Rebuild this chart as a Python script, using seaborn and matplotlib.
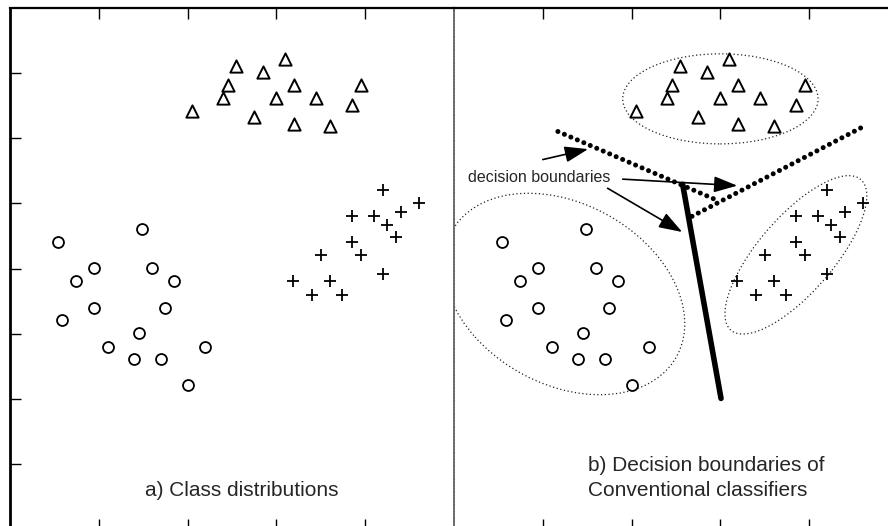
import numpy as np
import pandas as pd
import seaborn as sns
import matplotlib.pyplot as plt
from matplotlib.patches import Ellipse

# ---------------- data ----------------
tri_x = [2.05, 2.55, 2.45, 2.40, 2.85, 3.10, 3.20, 3.00, 2.75, 3.20, 3.45, 3.60, 3.85, 3.95]
tri_y = [6.41, 7.11, 6.82, 6.62, 7.01, 7.21, 6.82, 6.62, 6.32, 6.22, 6.62, 6.18, 6.51, 6.82]
plus_x = [4.20, 4.61, 3.85, 4.10, 4.40, 4.25, 4.35, 3.85, 3.50, 3.95, 4.20, 3.19, 3.60, 3.40, 3.74]
plus_y = [5.20, 5.00, 4.80, 4.80, 4.86, 4.67, 4.49, 4.41, 4.20, 4.20, 3.91, 3.81, 3.81, 3.60, 3.60]
circ_x = [1.49, 0.54, 0.95, 1.60, 0.74, 1.85, 0.95, 1.75, 0.59, 1.45, 1.10, 2.20, 1.40, 1.70, 2.00]
circ_y = [4.60, 4.40, 4.01, 4.01, 3.81, 3.81, 3.40, 3.40, 3.21, 3.01, 2.80, 2.80, 2.61, 2.61, 2.21]

x_ticks = [1, 2, 3, 4]
y_ticks = [1, 2, 3, 4, 5, 6, 7]

# class-region ellipses: (cx, cy, width, height, angle)
ell_circ = (1.24, 3.61, 3.34, 2.40, -56.7)
ell_plus = (3.85, 4.21, 2.75, 0.94, 60.0)
ell_tri = (3.00, 6.60, 2.20, 1.38, 0.0)

# decision boundaries
bnd_dot1_x = [1.17, 2.99]
bnd_dot1_y = [6.10, 5.03]
bnd_dot2_x = [2.68, 4.63]
bnd_dot2_y = [4.80, 6.19]
bnd_solid_x = [2.575, 3.007]
bnd_solid_y = [5.29, 2.01]

# arrows (tail -> head)
arrow_tails = [(1.00, 5.67), (1.90, 5.37), (1.73, 5.23)]
arrow_heads = [(1.51, 5.83), (3.19, 5.27), (2.57, 4.56)]

label_a = "a) Class distributions"
label_b1 = "b) Decision boundaries of"
label_b2 = "Conventional classifiers"
label_db = "decision boundaries"

# ---------------- styling ----------------
sns.set_theme(style="white")
plt.rcParams['font.family'] = ['Liberation Sans', 'DejaVu Sans']

df = pd.concat([
    pd.DataFrame({'x': tri_x, 'y': tri_y, 'cls': 'tri'}),
    pd.DataFrame({'x': plus_x, 'y': plus_y, 'cls': 'plus'}),
    pd.DataFrame({'x': circ_x, 'y': circ_y, 'cls': 'circ'}),
], ignore_index=True)

W, H = 888, 526
fig = plt.figure(figsize=(W / 100, H / 100), dpi=100)
bottom = (526 - 529.6) / H
height = (529.6 - 7.5) / H
axL = fig.add_axes([10 / W, bottom, 444 / W, height])
axR = fig.add_axes([454 / W, bottom, 444 / W, height])


def draw_points(ax):
    sub = df[df.cls == 'circ']
    sns.scatterplot(data=sub, x='x', y='y', marker='o', s=62, facecolor='white',
                    edgecolor='black', linewidth=1.3, ax=ax, zorder=4)
    sub = df[df.cls == 'tri']
    sns.scatterplot(data=sub, x='x', y='y', marker='^', s=78, facecolor='white',
                    edgecolor='black', linewidth=1.4, ax=ax, zorder=4)
    sub = df[df.cls == 'plus']
    sns.scatterplot(data=sub, x='x', y='y', marker='+', s=70, color='black',
                    linewidth=1.3, ax=ax, zorder=4)


for ax in (axL, axR):
    draw_points(ax)
    ax.set_xlim(0, 5)
    ax.set_ylim(0, 8)
    ax.set_xlabel('')
    ax.set_ylabel('')
    ax.set_xticks(x_ticks)
    ax.tick_params(direction='in', length=8, width=1, color='black',
                   top=True, bottom=True, labelleft=False, labelbottom=False,
                   labeltop=False)
    ax.spines['right'].set_visible(False)
    ax.spines['top'].set_linewidth(1.6)
    ax.spines['top'].set_color('black')
    ax.spines['bottom'].set_color('black')
    ax.set_facecolor('white')

axL.set_yticks(y_ticks)
axL.tick_params(left=True)
axL.spines['left'].set_linewidth(2.0)
axL.spines['left'].set_color('black')

axR.set_yticks([])
axR.spines['left'].set_linewidth(1.3)
axR.spines['left'].set_color('#666666')
axR.spines['left'].set_linestyle((0, (1, 0.8)))

axL.text(2.61, 0.514, label_a, ha='center', va='baseline', fontsize=15)
axR.text(1.509, (529.6 - 471.3) / 65.33, label_b1, ha='left', va='baseline', fontsize=15)
axR.text(1.509, (529.6 - 496.3) / 65.33, label_b2, ha='left', va='baseline', fontsize=15)

# ellipses
for (cx, cy, w, h, ang) in (ell_circ, ell_plus, ell_tri):
    axR.add_patch(Ellipse((cx, cy), w, h, angle=ang, fill=False, edgecolor='#222222',
                          linewidth=0.9, linestyle=(0, (1, 2.0)), zorder=2))

# decision boundaries
for bx, by in ((bnd_dot1_x, bnd_dot1_y), (bnd_dot2_x, bnd_dot2_y)):
    sns.lineplot(x=bx, y=by, ax=axR, color='black', linewidth=3.6,
                 linestyle=(0, (0.01, 1.4)), dash_capstyle='round', zorder=3)
sns.lineplot(x=bnd_solid_x, y=bnd_solid_y, ax=axR, color='black', linewidth=4.0,
             solid_capstyle='round', zorder=3)

axR.text(0.16, 5.40, label_db, ha='left', va='center', fontsize=11.5)
for t, h in zip(arrow_tails, arrow_heads):
    axR.annotate('', xy=h, xytext=t,
                 arrowprops=dict(arrowstyle='-|>,head_length=1.1,head_width=0.38',
                                 mutation_scale=13, color='black', lw=1.2,
                                 shrinkA=0, shrinkB=0))

axR.set_xlim(0, 5)
axR.set_ylim(0, 8)
axR.set_xlabel('')
axR.set_ylabel('')

fig.savefig('out.png', dpi=100, facecolor='white')
